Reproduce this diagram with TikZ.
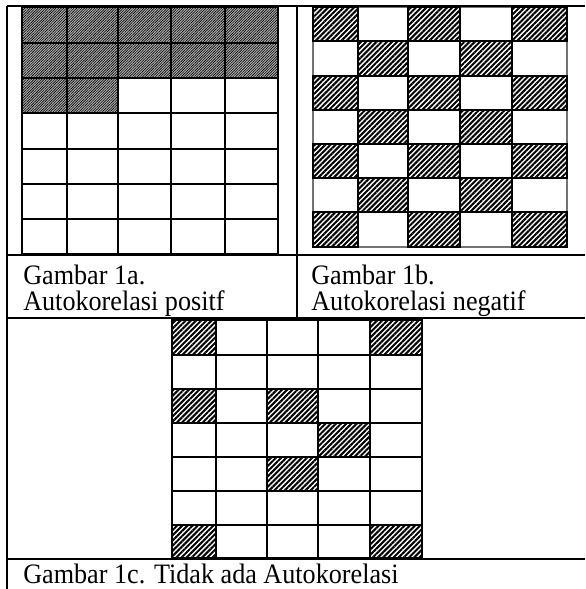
\documentclass[tikz,border=0pt]{standalone}
\usepackage{graphicx}
\usepackage{fontspec}
\setmainfont{Liberation Serif}
\usetikzlibrary{patterns.meta}
\newcommand\capline[1]{\scalebox{.93}[1]{#1}}

\begin{document}
\begin{tikzpicture}[x=0.025cm,y=-0.025cm,
    tabline/.style={line width=1.5pt},
    gridline/.style={line width=1.2pt},
    thingrid/.style={line width=.8pt,draw=black!55},
    hatchbold/.style={draw=black,line width=.9pt,preaction={fill=white},
      pattern={Lines[angle=45,distance=2.6pt,line width=1.45pt]}},
    hatchfine/.style={preaction={fill=black!30},
      pattern={Lines[angle=45,distance=1.3pt,line width=.45pt]}},
    caption/.style={anchor=base west,inner sep=0pt,
      font=\fontsize{20}{24}\selectfont}]
    \useasboundingbox (0,0) rectangle (585,589);
    % Gambar 1a
    \fill[hatchfine] (22,7) rectangle (278,78);
    \fill[hatchfine] (22,78) rectangle (118,113);
    \foreach \x in {22,67,118,171,225,278}
      \draw[gridline] (\x,7) -- (\x,254);
    \foreach \y in {7,43,78,113,149,184,219,254}
      \draw[gridline] (22,\y) -- (278,\y);
    % Gambar 1b
    \foreach \x in {313,358,408,460,512,567}
      \draw[thingrid] (\x,7) -- (\x,247);
    \foreach \y in {7,41,76,110,144,178,212,247}
      \draw[thingrid] (313,\y) -- (567,\y);
    \foreach \r in {1,...,7}
      \foreach \c in {1,...,5}{
        \pgfmathsetmacro\xl{{313,358,408,460,512,567}[\c-1]}
        \pgfmathsetmacro\xr{{313,358,408,460,512,567}[\c]}
        \pgfmathsetmacro\yt{{7,41,76,110,144,178,212,247}[\r-1]}
        \pgfmathsetmacro\yb{{7,41,76,110,144,178,212,247}[\r]}
        \pgfmathtruncatemacro\odd{mod(\r+\c,2)}
        \ifnum\odd=0 \filldraw[hatchbold] (\xl,\yt) rectangle (\xr,\yb); \fi
      }
    % Gambar 1c
    \foreach \x in {172,216,267,318,370,422}
      \draw[gridline] (\x,320) -- (\x,558);
    \foreach \y in {320,355,389,423,457,491,525,558}
      \draw[gridline] (172,\y) -- (422,\y);
    \foreach \xl/\xr/\yt/\yb in {172/216/320/355,370/422/320/355,
        172/216/389/423,267/318/389/423,318/370/423/457,
        267/318/457/491,172/216/525/558,370/422/525/558}
      \filldraw[hatchbold] (\xl,\yt) rectangle (\xr,\yb);
    % table rules
    \draw[tabline] (7,6) -- (585,6);
    \draw[tabline] (7,6) -- (7,589);
    \draw[tabline] (297,6) -- (297,318);
    \draw[tabline] (7,255) -- (585,255);
    \draw[tabline] (7,318) -- (585,318);
    \draw[tabline] (7,559) -- (585,559);
    % captions
    \node[caption] (capAtop) at (23,284) {\capline{Gambar 1a.}};
    \node[caption] (capAbot) at (23,310) {\capline{Autokorelasi positf}};
    \node[caption] (capBtop) at (311,284) {\capline{Gambar 1b.}};
    \node[caption] (capBbot) at (311,310) {\capline{Autokorelasi negatif}};
    \node[caption] (capC) at (23,583) {\capline{Gambar 1c. Tidak ada Autokorelasi}};
  \end{tikzpicture}
\end{document}
